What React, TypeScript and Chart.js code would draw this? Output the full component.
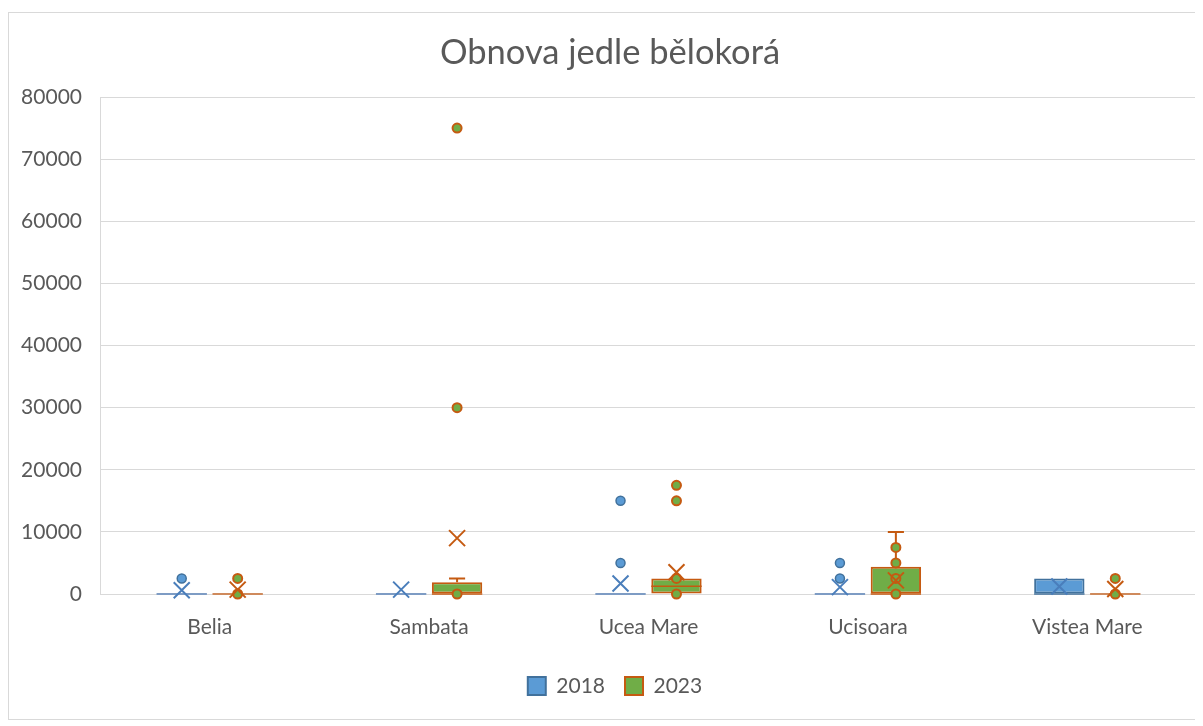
import React, { useEffect, useRef } from "react";
import { Chart, registerables } from "chart.js";

Chart.register(...registerables);

const categories = ["Belia", "Sambata", "Ucea Mare", "Ucisoara", "Vistea Mare"];
const seriesNames = ["2018", "2023"];

// 2018
const q1_2018 = [0, 0, 0, 0, 0];
const q3_2018 = [0, 0, 0, 0, 2500];
const median_2018 = [0, 0, 0, 0, 0];
const whiskerLow_2018 = [0, 0, 0, 0, 0];
const whiskerHigh_2018 = [0, 0, 0, 0, 2500];
const mean_2018 = [600, 700, 1700, 1100, 1200];
const outliers_2018 = [[2500], [], [5000, 15000], [2500, 5000], []];
const inner_2018: number[][] = [[], [], [], [], []];

// 2023
const q1_2023 = [0, 0, 0, 0, 0];
const q3_2023 = [0, 1900, 2500, 4400, 0];
const median_2023 = [0, 0, 1250, 0, 0];
const whiskerLow_2023 = [0, 0, 0, 0, 0];
const whiskerHigh_2023 = [0, 2500, 2500, 10000, 0];
const mean_2023 = [700, 9000, 3500, 2200, 800];
const outliers_2023 = [[2500], [30000, 75000], [15000, 17500], [], [2500]];
const inner_2023 = [[0], [0], [0, 2500], [0, 2500, 5000, 7500], [0]];

const yTicks = [0, 10000, 20000, 30000, 40000, 50000, 60000, 70000, 80000];

const BLUE_FILL = "#5B9BD5";
const BLUE_LINE = "#41719C";
const BLUE_MARK = "#4A7EBB";
const GREEN_FILL = "#70AD47";
const ORANGE_LINE = "#C55A11";
const TEXT = "#595959";
const GRID = "#D9D9D9";
const FONT = "Lato, 'Noto Sans', sans-serif";

const seriesStats = [
  {
    q1: q1_2018, q3: q3_2018, med: median_2018, lo: whiskerLow_2018, hi: whiskerHigh_2018,
    mean: mean_2018, outliers: outliers_2018, inner: inner_2018,
    line: BLUE_LINE, flat: "#7E9CC4", mark: BLUE_MARK, ptFill: BLUE_FILL, ptLine: BLUE_LINE, ptWidth: 1.5,
  },
  {
    q1: q1_2023, q3: q3_2023, med: median_2023, lo: whiskerLow_2023, hi: whiskerHigh_2023,
    mean: mean_2023, outliers: outliers_2023, inner: inner_2023,
    line: ORANGE_LINE, flat: "#CF8A5C", mark: ORANGE_LINE, ptFill: GREEN_FILL, ptLine: ORANGE_LINE, ptWidth: 2,
  },
];

const boxPlugin = {
  id: "boxWhisker",
  afterLayout(chart: any) {
    if (chart.legend) chart.legend.left += 24;
    if (chart.titleBlock) chart.titleBlock.left += 14;
  },
  afterDatasetsDraw(chart: any) {
    const y = chart.scales.y;
    const ctx = chart.ctx;
    ctx.save();
    seriesStats.forEach((st, s) => {
      const meta = chart.getDatasetMeta(s);
      meta.data.forEach((el: any, i: number) => {
        const x = el.x;
        const half = el.width / 2;
        const capHalf = el.width * 0.16;
        const yMed = y.getPixelForValue(st.med[i]);
        const yQ1 = y.getPixelForValue(st.q1[i]);
        const yQ3 = y.getPixelForValue(st.q3[i]);
        const yLo = y.getPixelForValue(st.lo[i]);
        const yHi = y.getPixelForValue(st.hi[i]);
        const flat = st.q3[i] === st.q1[i];
        ctx.strokeStyle = flat ? st.flat : st.line;
        ctx.lineWidth = flat ? 2 : 1.5;
        ctx.beginPath();
        ctx.moveTo(x - half, yMed);
        ctx.lineTo(x + half, yMed);
        ctx.stroke();
        ctx.strokeStyle = st.line;
        ctx.lineWidth = 2;
        if (st.hi[i] > st.q3[i]) {
          ctx.beginPath();
          ctx.moveTo(x, yQ3);
          ctx.lineTo(x, yHi);
          ctx.moveTo(x - capHalf, yHi);
          ctx.lineTo(x + capHalf, yHi);
          ctx.stroke();
        }
        if (st.lo[i] < st.q1[i]) {
          ctx.beginPath();
          ctx.moveTo(x, yQ1);
          ctx.lineTo(x, yLo);
          ctx.moveTo(x - capHalf, yLo);
          ctx.lineTo(x + capHalf, yLo);
          ctx.stroke();
        }
      });
    });
    seriesStats.forEach((st, s) => {
      const meta = chart.getDatasetMeta(s);
      meta.data.forEach((el: any, i: number) => {
        const x = el.x;
        const pts = st.inner[i].concat(st.outliers[i]);
        pts.forEach((v: number) => {
          const py = y.getPixelForValue(v);
          ctx.beginPath();
          ctx.arc(x, py, 4.5, 0, Math.PI * 2);
          ctx.fillStyle = st.ptFill;
          ctx.fill();
          ctx.lineWidth = st.ptWidth;
          ctx.strokeStyle = st.ptLine;
          ctx.stroke();
        });
        const my = y.getPixelForValue(st.mean[i]);
        const r = 8;
        ctx.beginPath();
        ctx.moveTo(x - r, my - r);
        ctx.lineTo(x + r, my + r);
        ctx.moveTo(x - r, my + r);
        ctx.lineTo(x + r, my - r);
        ctx.lineWidth = 2;
        ctx.strokeStyle = st.mark;
        ctx.stroke();
      });
    });
    ctx.restore();
  },
};

export default function App() {
  const ref = useRef<HTMLCanvasElement>(null);
  useEffect(() => {
    document.documentElement.style.overflow = "hidden";
    document.body.style.overflow = "hidden";
    const canvas = ref.current;
    if (!canvas) return;
    const chart = new Chart(canvas, {
      type: "bar",
      data: {
        labels: categories,
        datasets: [
          {
            label: seriesNames[0],
            data: q1_2018.map((v, i) => [v, q3_2018[i]]),
            backgroundColor: BLUE_FILL,
            borderColor: BLUE_LINE,
            borderWidth: 2,
            borderSkipped: false,
            categoryPercentage: 0.51,
            barPercentage: 0.9,
          },
          {
            label: seriesNames[1],
            data: q1_2023.map((v, i) => [v, q3_2023[i]]),
            backgroundColor: GREEN_FILL,
            borderColor: ORANGE_LINE,
            borderWidth: 2,
            borderSkipped: false,
            categoryPercentage: 0.51,
            barPercentage: 0.9,
          },
        ],
      },
      options: {
        responsive: false,
        animation: false,
        layout: { padding: { left: 0, right: 7, top: 0, bottom: 12.5 } },
        plugins: {
          title: {
            display: true,
            text: "Obnova jedle bělokorá",
            color: TEXT,
            font: { family: FONT, size: 34.5, weight: "normal", lineHeight: 1.2 },
            padding: { top: 19, bottom: 23.6 },
          },
          legend: {
            position: "bottom",
            labels: {
              color: TEXT,
              font: { family: FONT, size: 21 },
              boxWidth: 18,
              boxHeight: 18,
              padding: 20,
            },
          },
          tooltip: { enabled: false },
        },
        scales: {
          x: {
            type: "category",
            grid: { display: false, drawTicks: false },
            border: { display: false },
            ticks: { color: TEXT, font: { family: FONT, size: 21 }, padding: 20.4 },
            afterFit: (s: any) => {
              s.height = 61.5;
            },
          },
          y: {
            min: 0,
            max: 80000,
            afterBuildTicks: (s: any) => {
              s.ticks = yTicks.map((v) => ({ value: v }));
            },
            afterFit: (s: any) => {
              s.width = 91;
            },
            grid: { color: GRID, lineWidth: 1, drawTicks: false },
            border: { display: true, color: GRID, width: 1 },
            ticks: {
              color: TEXT,
              font: { family: FONT, size: 21 },
              padding: 18,
              callback: (v: any) => String(v),
            },
          },
        },
      } as any,
      plugins: [boxPlugin],
    });
    return () => chart.destroy();
  }, []);
  return (
    <div
      style={{
        marginTop: 4,
        width: 1195,
        height: 706,
        border: "1px solid #D9D9D9",
        background: "#fff",
      }}
    >
      <canvas ref={ref} width={1195} height={706} style={{ display: "block" }} />
    </div>
  );
}
